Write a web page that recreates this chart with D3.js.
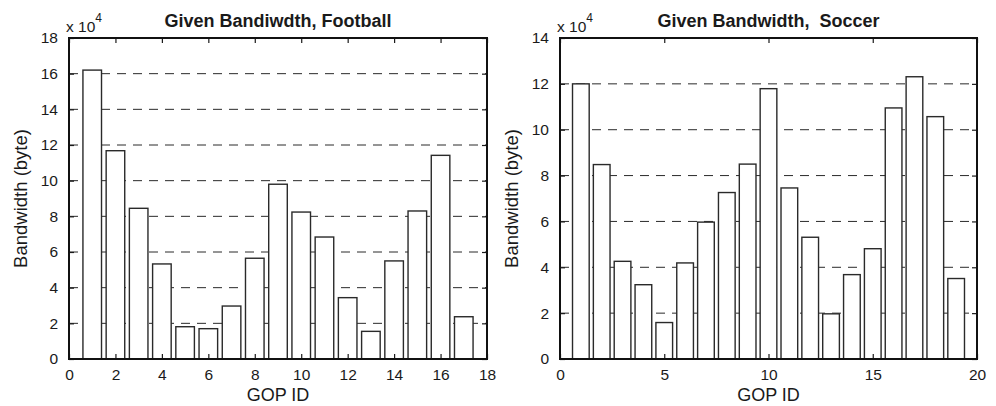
<!DOCTYPE html>
<html>
<head>
<meta charset="utf-8">
<script src="https://cdn.jsdelivr.net/npm/d3@7"></script>
<style>
  html, body { margin: 0; padding: 0; background: #fff; }
  svg { display: block; }
  text { font-family: "Liberation Sans", Arial, Helvetica, sans-serif; fill: #1a1a1a; }
</style>
</head>
<body>
<svg id="chart" width="996" height="406"></svg>
<script>
// ---------- data (values in units of 10^4 bytes) ----------
const footballIds = [1,2,3,4,5,6,7,8,9,10,11,12,13,14,15,16,17];
const footballValues = [16.2, 11.68, 8.45, 5.33, 1.81, 1.70, 2.97, 5.65, 9.8, 8.24, 6.84, 3.44, 1.55, 5.5, 8.3, 11.42, 2.37];
const footballXTicks = [0,2,4,6,8,10,12,14,16,18];
const footballYTicks = [0,2,4,6,8,10,12,14,16,18];

const soccerIds = [1,2,3,4,5,6,7,8,9,10,11,12,13,14,15,16,17,18,19];
const soccerValues = [12.0, 8.48, 4.26, 3.24, 1.59, 4.19, 5.97, 7.26, 8.5, 11.79, 7.46, 5.31, 1.97, 3.68, 4.81, 10.95, 12.31, 10.57, 3.51];
const soccerXTicks = [0,5,10,15,20];
const soccerYTicks = [0,2,4,6,8,10,12,14];

const titles = ["Given Bandiwdth, Football", "Given Bandwidth,  Soccer"];
const xLabel = "GOP ID";
const yLabel = "Bandwidth (byte)";

const svg = d3.select("#chart");

function panel(cfg) {
  const { left, right, top, bottom, ids, values, xTicks, yTicks, title } = cfg;
  const x = d3.scaleLinear().domain([xTicks[0], xTicks[xTicks.length-1]]).range([left, right]);
  const y = d3.scaleLinear().domain([yTicks[0], yTicks[yTicks.length-1]]).range([bottom, top]);
  const g = svg.append("g");

  // grid lines (horizontal, dashed)
  g.append("g").selectAll("line")
    .data(yTicks.slice(1, -1))
    .join("line")
    .attr("x1", left).attr("x2", right)
    .attr("y1", d => y(d)).attr("y2", d => y(d))
    .attr("stroke", "#2a2a2a").attr("stroke-width", 1)
    .attr("stroke-dasharray", "9,7");

  // bars
  g.append("g").selectAll("rect")
    .data(ids.map((id, i) => ({ id, v: values[i] })))
    .join("rect")
    .attr("x", d => x(d.id - 0.4))
    .attr("width", d => x(d.id + 0.4) - x(d.id - 0.4))
    .attr("y", d => y(d.v))
    .attr("height", d => y(0) - y(d.v))
    .attr("fill", "#fff")
    .attr("stroke", "#2a2a2a")
    .attr("stroke-width", 1.4);

  const tickLen = 5;
  const ax = g.append("g").attr("transform", `translate(0,${bottom})`)
    .call(d3.axisBottom(x).tickValues(xTicks).tickSizeInner(-tickLen).tickSizeOuter(0).tickPadding(10).tickFormat(d3.format("d")));
  const axTop = g.append("g").attr("transform", `translate(0,${top})`)
    .call(d3.axisTop(x).tickValues(xTicks).tickSizeInner(-tickLen).tickSizeOuter(0).tickFormat(""));
  const ay = g.append("g").attr("transform", `translate(${left},0)`)
    .call(d3.axisLeft(y).tickValues(yTicks).tickSizeInner(-tickLen).tickSizeOuter(0).tickPadding(11).tickFormat(d3.format("d")));
  const ayR = g.append("g").attr("transform", `translate(${right},0)`)
    .call(d3.axisRight(y).tickValues(yTicks).tickSizeInner(-tickLen).tickSizeOuter(0).tickFormat(""));

  [ax, axTop, ay, ayR].forEach(a => {
    a.select(".domain").remove();
    a.selectAll(".tick line").attr("stroke", "#1a1a1a").attr("stroke-width", 1.2);
    a.selectAll("text").attr("font-size", 15.5).attr("fill", "#1a1a1a")
      .style("font-family", '"Liberation Sans", Arial, sans-serif');
  });

  // frame
  g.append("rect")
    .attr("x", left).attr("y", top)
    .attr("width", right - left).attr("height", bottom - top)
    .attr("fill", "none").attr("stroke", "#111").attr("stroke-width", 2);

  // title
  g.append("text")
    .attr("x", (left + right) / 2).attr("y", 27)
    .attr("text-anchor", "middle")
    .attr("font-size", 18).attr("font-weight", "bold")
    .attr("xml:space", "preserve").style("white-space", "pre")
    .text(title);

  // x 10^4 multiplier
  const m = g.append("text").attr("x", left - 3).attr("y", 32).attr("font-size", 15.5);
  m.append("tspan").text("x 10");
  m.append("tspan").attr("dy", -10).attr("font-size", 12).text("4");

  // x label
  g.append("text")
    .attr("x", (left + right) / 2).attr("y", 401)
    .attr("text-anchor", "middle").attr("font-size", 18)
    .text(xLabel);

  // y label
  g.append("text")
    .attr("transform", `translate(${left - 42},${(top + bottom) / 2}) rotate(-90)`)
    .attr("text-anchor", "middle").attr("font-size", 18.5)
    .text(yLabel);
}

panel({ left: 69, right: 487, top: 38, bottom: 359, ids: footballIds, values: footballValues,
        xTicks: footballXTicks, yTicks: footballYTicks, title: titles[0] });
panel({ left: 560, right: 977, top: 38, bottom: 359, ids: soccerIds, values: soccerValues,
        xTicks: soccerXTicks, yTicks: soccerYTicks, title: titles[1] });
</script>
</body>
</html>
